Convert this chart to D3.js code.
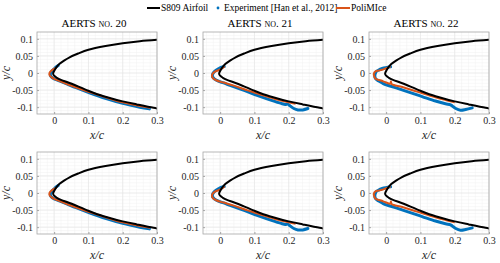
<!DOCTYPE html>
<html>
<head>
<meta charset="utf-8">
<script src="https://cdn.jsdelivr.net/npm/d3@7"></script>
<style>
  body { margin: 0; background: #fff; }
  svg { display: block; }
</style>
</head>
<body>
<div id="chart"></div>
<script>
// Ice shapes on the S809 leading edge, AERTS runs 20-22

const SERIF = "'Liberation Serif', serif";
const titles = ["20", "21", "22"];
const xTicks = [0, 0.1, 0.2, 0.3];
const yTicks = [-0.1, -0.05, 0, 0.05, 0.1];

// clean airfoil, upper TE -> LE -> lower TE
const airfoil = [
    [0.30, 0.097], [0.25, 0.093], [0.20, 0.087], [0.15, 0.079], [0.10, 0.068],
    [0.07, 0.057], [0.045, 0.046], [0.03, 0.037], [0.015, 0.026], [0.006, 0.016],
    [0.0, 0.006], [-0.003, -0.002], [0.0, -0.008], [0.008, -0.014], [0.02, -0.020],
    [0.047, -0.030], [0.10, -0.052], [0.144, -0.068], [0.20, -0.083], [0.241, -0.092],
    [0.29, -0.102], [0.31, -0.105]
];

// experiment [Han et al., 2012]
const exp20 = [
    [0.012, 0.022], [0.006, 0.018], [0.0, 0.012], [-0.006, 0.006], [-0.010, 0.0],
    [-0.011, -0.006], [-0.008, -0.012], [0.0, -0.017], [0.015, -0.023], [0.035, -0.031],
    [0.064, -0.043], [0.103, -0.058], [0.152, -0.075], [0.20, -0.089], [0.25, -0.100],
    [0.278, -0.105]
];
const exp21 = [
    [0.012, 0.019], [0.004, 0.017], [-0.004, 0.013], [-0.012, 0.008], [-0.018, 0.003],
    [-0.022, -0.004], [-0.022, -0.011], [-0.017, -0.017], [-0.005, -0.024], [0.010, -0.029],
    [0.031, -0.037], [0.070, -0.051], [0.110, -0.066], [0.150, -0.080], [0.178, -0.089],
    [0.190, -0.092], [0.197, -0.091], [0.205, -0.097], [0.215, -0.104], [0.227, -0.108],
    [0.241, -0.108], [0.256, -0.104]
];
const exp22 = [
    [0.013, 0.018], [0.005, 0.017], [-0.007, 0.0145], [-0.015, 0.012], [-0.021, 0.009],
    [-0.028, 0.005], [-0.031, 0.0], [-0.033, -0.008], [-0.032, -0.014], [-0.026, -0.021],
    [-0.015, -0.027], [-0.007, -0.032], [0.027, -0.043], [0.066, -0.056], [0.105, -0.069],
    [0.144, -0.082], [0.173, -0.090], [0.188, -0.093], [0.196, -0.099], [0.203, -0.104],
    [0.217, -0.109], [0.232, -0.107], [0.251, -0.102]
];

// PoliMIce
const sim20 = [
    [0.005, 0.015], [-0.004, 0.010], [-0.011, 0.004], [-0.014, -0.002], [-0.013, -0.007],
    [-0.008, -0.012], [0.0, -0.017], [0.020, -0.025], [0.047, -0.036], [0.10, -0.055],
    [0.15, -0.071], [0.20, -0.086], [0.25, -0.097], [0.28, -0.102]
];
const sim21 = [
    [0.013, 0.019], [0.005, 0.013], [-0.005, 0.008], [-0.015, 0.004], [-0.022, -0.002],
    [-0.024, -0.009], [-0.020, -0.016], [-0.010, -0.022], [0.010, -0.028], [0.040, -0.037],
    [0.080, -0.051], [0.120, -0.064], [0.160, -0.076], [0.200, -0.086], [0.220, -0.090]
];
const sim22 = [
    [0.013, 0.019], [0.003, 0.015], [-0.010, 0.010], [-0.022, 0.007], [-0.031, 0.005],
    [-0.036, -0.002], [-0.035, -0.009], [-0.031, -0.017], [-0.015, -0.022], [-0.002, -0.027],
    [0.012, -0.031], [0.014, -0.025], [0.016, -0.032], [0.047, -0.041], [0.095, -0.056],
    [0.144, -0.071], [0.173, -0.079], [0.200, -0.086]
];

const experiments = [exp20, exp21, exp22];
const simulations = [sim20, sim21, sim22];

const BLUE = "#0072bd", ORANGE = "#d95319", AXIS = "#a6a6a6";
const width = 500, height = 263;
const colLeft = [37, 203, 369];
const rowTop = [32, 152];
const pw = 120, ph = 82;

const svg = d3.select("#chart").append("svg")
    .attr("width", width)
    .attr("height", height)
    .attr("font-family", SERIF);

const x = d3.scaleLinear().domain([-0.05, 0.3]).range([0, pw]);
const y = d3.scaleLinear().domain([-0.12, 0.12]).range([ph, 0]);

const line = d3.line()
    .x(d => x(d[0]))
    .y(d => y(d[1]))
    .curve(d3.curveCatmullRom);

function drawPanel(r, c) {
    const g = svg.append("g").attr("transform", `translate(${colLeft[c]},${rowTop[r]})`);
    const clipId = `clip-${r}-${c}`;
    g.append("clipPath").attr("id", clipId)
        .append("rect").attr("width", pw).attr("height", ph);

    // minor grid
    const grid = g.append("g");
    grid.selectAll(".mx").data(d3.range(-0.04, 0.3, 0.02)).join("line")
        .attr("x1", d => x(d)).attr("x2", d => x(d)).attr("y1", 0).attr("y2", ph)
        .attr("stroke", "#f1f1f1").attr("stroke-width", 0.5);
    grid.selectAll(".my").data(d3.range(-0.11, 0.12, 0.01)).join("line")
        .attr("y1", d => y(d)).attr("y2", d => y(d)).attr("x1", 0).attr("x2", pw)
        .attr("stroke", "#f1f1f1").attr("stroke-width", 0.5);
    // major grid
    grid.selectAll(".gx").data(xTicks).join("line")
        .attr("x1", d => x(d)).attr("x2", d => x(d)).attr("y1", 0).attr("y2", ph)
        .attr("stroke", "#e4e4e4").attr("stroke-width", 0.6);
    grid.selectAll(".gy").data(yTicks).join("line")
        .attr("y1", d => y(d)).attr("y2", d => y(d)).attr("x1", 0).attr("x2", pw)
        .attr("stroke", "#e4e4e4").attr("stroke-width", 0.6);

    const plot = g.append("g").attr("clip-path", `url(#${clipId})`);
    plot.append("path").datum(experiments[c])
        .attr("fill", "none").attr("stroke", BLUE).attr("stroke-width", 3)
        .attr("stroke-linejoin", "round").attr("stroke-linecap", "round")
        .attr("d", line);
    plot.append("path").datum(simulations[c])
        .attr("fill", "none").attr("stroke", ORANGE).attr("stroke-width", 2)
        .attr("stroke-linejoin", "round")
        .attr("d", line);
    plot.append("path").datum(airfoil)
        .attr("fill", "none").attr("stroke", "#000").attr("stroke-width", 2)
        .attr("d", line);

    // axes
    const xAxis = g.append("g").attr("transform", `translate(0,${ph})`)
        .call(d3.axisBottom(x).tickValues(xTicks).tickSize(-2).tickPadding(3).tickFormat(d => String(d)));
    const yAxis = g.append("g")
        .call(d3.axisLeft(y).tickValues(yTicks).tickSize(-2).tickPadding(4).tickFormat(d => String(d)));
    [xAxis, yAxis].forEach(a => {
        a.attr("font-family", SERIF).attr("font-size", 10);
        a.select(".domain").remove();
        a.selectAll(".tick line").attr("stroke", AXIS);
        a.selectAll(".tick text").attr("fill", "#262626");
    });
    g.append("rect").attr("width", pw).attr("height", ph)
        .attr("fill", "none").attr("stroke", AXIS).attr("stroke-width", 0.8);

    // labels
    g.append("text")
        .attr("x", pw / 2).attr("y", ph + 25)
        .attr("text-anchor", "middle").attr("fill", "#262626")
        .attr("font-style", "italic").attr("font-size", 12)
        .text("x/c");
    g.append("text")
        .attr("transform", `translate(-27,${ph / 2}) rotate(-90)`)
        .attr("text-anchor", "middle").attr("fill", "#262626")
        .attr("font-style", "italic").attr("font-size", 12)
        .text("y/c");

    if (r === 0) {
        const t = g.append("text")
            .attr("x", pw / 2 - 3).attr("y", -5)
            .attr("text-anchor", "middle").attr("fill", "#000")
            .attr("font-size", 11);
        t.append("tspan").text("AERTS ");
        t.append("tspan").attr("font-variant", "small-caps").text("no.");
        t.append("tspan").text(" " + titles[c]);
    }
}

for (let r = 0; r < 2; r++) {
    for (let c = 0; c < 3; c++) drawPanel(r, c);
}

// legend
const legend = svg.append("g").attr("font-size", 9.5);
legend.append("line").attr("x1", 147).attr("x2", 160).attr("y1", 8).attr("y2", 8)
    .attr("stroke", "#000").attr("stroke-width", 2);
legend.append("text").attr("x", 161).attr("y", 11).text("S809 Airfoil");
legend.append("circle").attr("cx", 218).attr("cy", 8).attr("r", 1.4).attr("fill", BLUE);
legend.append("text").attr("x", 224).attr("y", 11).text("Experiment [Han et al., 2012]");
legend.append("line").attr("x1", 336).attr("x2", 350).attr("y1", 8).attr("y2", 8)
    .attr("stroke", ORANGE).attr("stroke-width", 2);
legend.append("text").attr("x", 351).attr("y", 11).text("PoliMIce");
</script>
</body>
</html>
